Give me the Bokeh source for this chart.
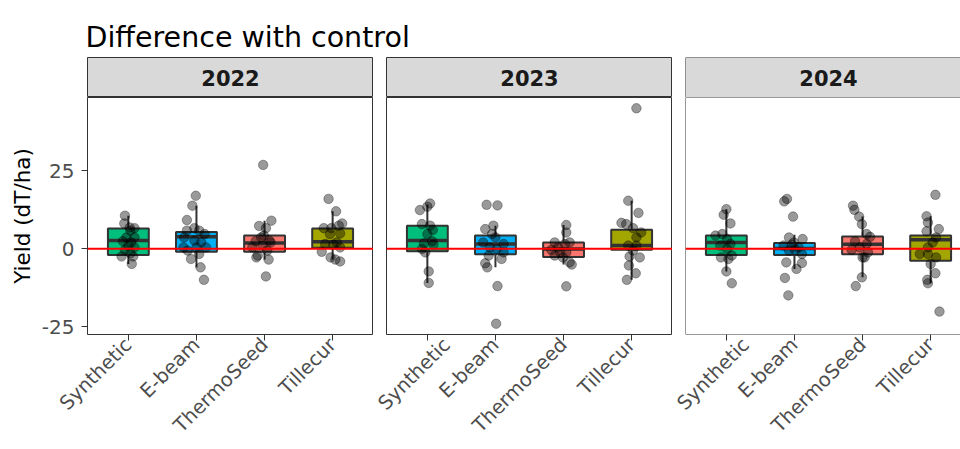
from bokeh.plotting import figure
from bokeh.layouts import column, row
from bokeh.models import Range1d, FixedTicker, Span
from bokeh.core.properties import value
from bokeh.embed import file_html
from bokeh.resources import INLINE

# ---------------- data ----------------
title_text = "Difference with control"
y_label = "Yield (dT/ha)"
years = ["2022", "2023", "2024"]
categories = ["Synthetic", "E-beam", "ThermoSeed", "Tillecur"]
box_colors = ["#00BF7D", "#00B0F6", "#F8766D", "#A3A500"]
y_ticks = [-25, 0, 25]

# boxplot statistics per year (category order as above)
q1 = {"2022": [-2.0, -1.0, -1.0, 0.3], "2023": [-0.8, -1.8, -2.7, -0.3], "2024": [-2.0, -2.0, -1.8, -3.9]}
median = {"2022": [2.6, 3.8, 1.8, 2.2], "2023": [2.6, 1.5, -0.1, 1.0], "2024": [2.0, 0.1, 1.4, 2.9]}
q3 = {"2022": [6.5, 5.4, 4.2, 6.5], "2023": [7.4, 4.2, 2.0, 6.1], "2024": [4.2, 1.8, 3.9, 4.2]}
whisker_lo = {"2022": [-4.9, -6.0, -3.5, -3.5], "2023": [-11.0, -6.0, -5.1, -10.0], "2024": [-7.3, -6.5, -9.2, -11.1]}
whisker_hi = {"2022": [10.6, 13.8, 9.0, 12.0], "2023": [14.2, 7.4, 7.6, 15.4], "2024": [12.7, 4.5, 10.3, 10.4]}

# individual observations (difference with control) and their horizontal jitter
values_2022 = {
    "Synthetic": [10.6, 8.1, 6.8, 6.6, 5.8, 3.6, 2.4, 2.0, 1.0, 0.4, -0.4, -1.5, -2.5, -2.5, -4.9, 3.6],
    "E-beam": [17.0, 13.8, 9.2, 5.8, 6.6, 5.8, 4.7, 3.6, 2.6, 2.0, 0.4, -0.6, 0.4, -1.7, -3.3, -6.0, -10.0, 0.4],
    "ThermoSeed": [26.9, 9.0, 7.3, 6.6, 4.2, 2.6, 2.4, 2.0, 1.0, 0.4, -0.6, -2.2, -2.8, -3.5, -8.9, 3.6],
    "Tillecur": [16.0, 12.0, 8.1, 6.6, 6.6, 7.4, 4.7, 4.9, 1.5, 2.0, 1.3, -1.0, 0.4, -2.8, -3.5, -4.1],
}
jitter_2022 = {
    "Synthetic": [-0.05, -0.06, 0.02, 0.09, 0.03, 0.09, -0.08, 0.04, 0.0, 0.09, -0.05, 0.03, -0.1, 0.07, 0.05, -0.03],
    "E-beam": [-0.01, -0.06, -0.14, -0.14, -0.03, 0.04, 0.12, -0.18, -0.03, 0.07, 0.14, -0.13, 0.0, 0.04, -0.08, 0.06, 0.11, -0.19],
    "ThermoSeed": [-0.02, 0.10, -0.08, 0.02, -0.01, 0.07, -0.13, 0.09, -0.03, -0.18, 0.04, -0.10, -0.12, 0.06, 0.02, -0.05],
    "Tillecur": [-0.06, 0.05, 0.14, -0.13, -0.02, 0.09, -0.04, 0.11, -0.11, 0.06, 0.01, -0.16, 0.11, -0.03, 0.04, 0.11],
}
values_2023 = {
    "Synthetic": [14.5, 13.5, 12.4, 7.9, 7.4, 6.0, 4.7, 2.4, 1.7, 1.3, -0.1, -1.2, -7.3, -11.0],
    "E-beam": [14.1, 13.9, 7.4, 6.3, 4.7, 3.6, 2.0, 1.5, 0.4, -0.1, -1.2, -2.2, -3.3, -4.7, -6.0, -12.0, -24.1],
    "ThermoSeed": [7.6, 5.2, 2.0, 1.5, 2.0, 0.4, -0.4, -1.2, -2.2, -2.8, -4.4, -5.1, -12.1, -1.2],
    "Tillecur": [45.1, 15.4, 11.5, 8.3, 7.9, 6.6, 5.2, 3.6, 1.0, 1.0, -0.6, -2.8, -2.5, -5.4, -7.9, -10.0],
}
jitter_2023 = {
    "Synthetic": [0.04, 0.0, -0.11, -0.08, 0.04, 0.08, 0.0, 0.07, -0.05, 0.09, -0.08, -0.03, 0.02, 0.02],
    "E-beam": [-0.13, 0.03, -0.03, -0.15, -0.05, 0.0, -0.18, 0.12, -0.08, 0.02, 0.12, -0.10, 0.09, -0.15, -0.12, 0.03, 0.01],
    "ThermoSeed": [0.04, 0.04, -0.13, 0.02, 0.09, -0.08, -0.18, 0.04, -0.13, -0.01, 0.09, 0.12, 0.04, -0.05],
    "Tillecur": [0.07, -0.05, 0.10, -0.15, -0.08, 0.02, 0.14, 0.07, -0.05, 0.07, 0.02, 0.12, -0.03, -0.04, 0.06, -0.07],
}
values_2024 = {
    "Synthetic": [12.7, 10.9, 8.1, 4.2, 4.7, 3.1, 1.0, 1.5, -0.1, -2.2, -2.8, -3.3, -7.3, -11.1],
    "E-beam": [16.0, 15.2, 10.3, 3.6, 3.1, 2.0, 1.0, 0.4, -0.6, -1.7, -4.4, -4.6, -6.5, -9.4, -15.0, 1.3, -0.4],
    "ThermoSeed": [13.8, 12.5, 10.3, 7.9, 4.7, 3.8, 2.4, 1.5, 0.4, -0.4, -1.2, -2.8, -2.8, -9.2, -12.0],
    "Tillecur": [17.3, 10.4, 8.4, 6.3, 5.6, 3.6, 2.0, 0.4, -1.7, -1.7, -2.8, -4.9, -7.9, -10.0, -11.1, -20.2],
}
jitter_2024 = {
    "Synthetic": [0.0, -0.04, 0.06, -0.16, -0.06, 0.01, -0.09, 0.06, 0.01, 0.08, -0.08, 0.03, 0.0, 0.08],
    "E-beam": [-0.11, -0.15, -0.02, -0.08, 0.12, -0.01, -0.16, 0.06, -0.08, 0.11, -0.12, 0.11, 0.03, -0.14, -0.09, -0.04, 0.01],
    "ThermoSeed": [-0.14, -0.12, -0.05, -0.01, 0.06, 0.11, -0.11, 0.06, -0.04, -0.16, 0.08, 0.03, 0.0, -0.01, -0.10],
    "Tillecur": [0.07, -0.06, -0.04, 0.12, -0.06, 0.08, 0.03, -0.04, -0.16, -0.04, 0.08, 0.0, 0.07, -0.05, -0.04, 0.13],
}
values_by_year = {"2022": values_2022, "2023": values_2023, "2024": values_2024}
jitter_by_year = {"2022": jitter_2022, "2023": jitter_2023, "2024": jitter_2024}

# ---------------- layout / style ----------------
FONT = "DejaVu Sans"
DARK = "#333333"
TOTAL_W = 960
TITLE_H = 57
STRIP_H = 40
PANEL_H = 352
FRAME_H = 237
LEFT1 = 87
GAP = 13
FRAME_W = 286
FRAME_W_LAST = TOTAL_W - LEFT1 - FRAME_W - GAP - FRAME_W - GAP  # cropped last panel

all_vals = [v for y in years for c in categories for v in values_by_year[y][c]]
ymin, ymax = min(all_vals), max(all_vals)
ypad = 0.05 * (ymax - ymin)
X0, X1 = 0.4, len(categories) + 0.6


def base_fig(**kw):
    f = figure(toolbar_location=None, output_backend="svg", min_border_right=0,
               min_border_top=0, **kw)
    f.background_fill_color = "white"
    f.border_fill_color = "white"
    return f


def strip(year, left, frame_w, last):
    s = base_fig(width=left + frame_w, height=STRIP_H, x_range=Range1d(0, frame_w),
                 y_range=Range1d(0, 1), min_border_left=left, min_border_bottom=0,
                 x_axis_location=None, y_axis_location=None)
    s.grid.visible = False
    s.background_fill_color = "#D9D9D9"
    s.text(x=[FRAME_W / 2], y=[0.5], text=[year], text_font=value(FONT), text_font_size="21px",
           text_font_style="bold", text_align="center", text_baseline="middle", text_color="#1A1A1A")
    if last:
        s.outline_line_color = None
        s.add_layout(Span(location=0, dimension="height", line_color=DARK, line_width=1))
        s.add_layout(Span(location=1, dimension="width", line_color=DARK, line_width=1))
        s.add_layout(Span(location=0, dimension="width", line_color=DARK, line_width=1))
    else:
        s.outline_line_color = DARK
        s.outline_line_width = 1
    return s


def panel(year, left, frame_w, first, last):
    xr_end = X0 + (X1 - X0) * frame_w / FRAME_W
    p = base_fig(width=left + frame_w, height=PANEL_H, x_range=Range1d(X0, xr_end),
                 y_range=Range1d(ymin - ypad, ymax + ypad), min_border_left=left,
                 min_border_bottom=PANEL_H - FRAME_H,
                 y_axis_location="left" if first else None)
    p.grid.visible = False
    if last:
        p.outline_line_color = None
        p.add_layout(Span(location=X0, dimension="height", line_color=DARK, line_width=1))
        p.add_layout(Span(location=ymax + ypad, dimension="width", line_color=DARK, line_width=1))
        p.add_layout(Span(location=ymin - ypad, dimension="width", line_color=DARK, line_width=1))
    else:
        p.outline_line_color = DARK
        p.outline_line_width = 1

    xs = [i + 1 for i in range(len(categories))]
    hw = 0.3
    # whiskers
    p.segment(x0=xs, x1=xs, y0=q3[year], y1=whisker_hi[year], line_color=DARK, line_width=2)
    p.segment(x0=xs, x1=xs, y0=q1[year], y1=whisker_lo[year], line_color=DARK, line_width=2)
    # boxes
    p.vbar(x=xs, width=2 * hw, bottom=q1[year], top=q3[year], fill_color=box_colors,
           line_color=DARK, line_width=2)
    p.segment(x0=[x - hw for x in xs], x1=[x + hw for x in xs], y0=median[year], y1=median[year],
              line_color=DARK, line_width=3.5)
    # jittered points
    px, py = [], []
    for i, c in enumerate(categories):
        for v, j in zip(values_by_year[year][c], jitter_by_year[year][c]):
            px.append(i + 1 + j)
            py.append(v)
    p.scatter(x=px, y=py, size=9.5, fill_color="black", fill_alpha=0.4,
              line_color="black", line_alpha=0.4, line_width=0.8)
    p.add_layout(Span(location=0, dimension="width", line_color="#FF0000", line_width=2))

    xa = p.xaxis[0]
    xa.ticker = FixedTicker(ticks=xs)
    xa.major_label_overrides = {x: c for x, c in zip(xs, categories)}
    xa.major_label_orientation = 0.785398
    xa.axis_line_color = None
    xa.major_tick_in = 0
    xa.major_tick_out = 6
    xa.major_tick_line_color = DARK
    xa.minor_tick_line_color = None
    xa.major_label_text_font = FONT
    xa.major_label_text_font_size = "19.5px"
    xa.major_label_text_color = "#4D4D4D"
    xa.major_label_standoff = 1
    if first:
        ya = p.yaxis[0]
        ya.ticker = FixedTicker(ticks=y_ticks)
        ya.major_label_overrides = {t: str(t) for t in y_ticks}
        ya.axis_line_color = None
        ya.major_tick_in = 0
        ya.major_tick_out = 6
        ya.major_tick_line_color = DARK
        ya.minor_tick_line_color = None
        ya.major_label_text_font = FONT
        ya.major_label_text_font_size = "20px"
        ya.major_label_text_color = "#4D4D4D"
        ya.major_label_standoff = 7
        ya.axis_label = y_label
        ya.axis_label_text_font = FONT
        ya.axis_label_text_font_size = "21.5px"
        ya.axis_label_text_font_style = "normal"
        ya.axis_label_text_color = "black"
        ya.axis_label_standoff = 4
    return p


title_fig = base_fig(width=TOTAL_W, height=TITLE_H, x_range=Range1d(0, TOTAL_W),
                     y_range=Range1d(TITLE_H, 0), min_border_left=0, min_border_bottom=0,
                     x_axis_location=None, y_axis_location=None)
title_fig.grid.visible = False
title_fig.outline_line_color = None
title_fig.text(x=[LEFT1 - 2], y=[36.5], text=[title_text], text_font=value(FONT), text_font_size="28.5px",
               text_align="left", text_baseline="alphabetic", text_color="black")

cols = []
specs = [(LEFT1, FRAME_W, True, False), (GAP, FRAME_W, False, False), (GAP, FRAME_W_LAST, False, True)]
for yr, (left, fw, first, last) in zip(years, specs):
    cols.append(column(strip(yr, left, fw, last), panel(yr, left, fw, first, last)))

layout = column(title_fig, row(*cols))
open("out.html", "w").write(file_html(layout, INLINE))
